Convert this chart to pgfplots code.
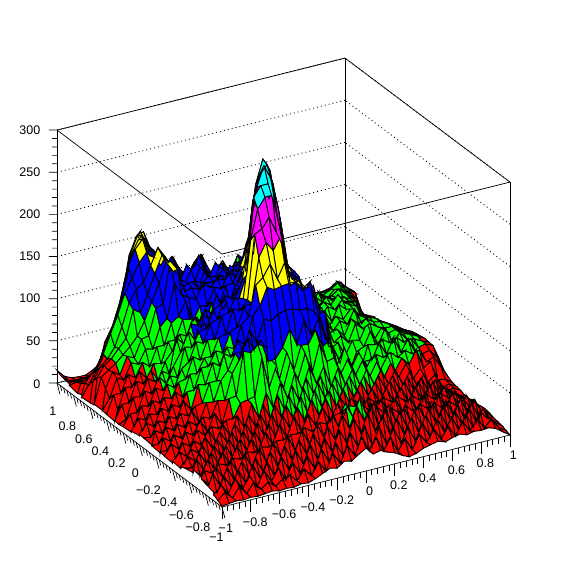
\documentclass[border=0pt]{standalone}
\usepackage{fontspec}
\setmainfont{Liberation Sans}
\usepackage{pgfplots}
\pgfplotsset{compat=1.18}
\begin{document}
\begin{tikzpicture}
\path[use as bounding box,fill=white] (0pt,0pt) rectangle (567pt,567pt);
\begin{axis}[
  at={(283.5pt,158pt)}, anchor=origin, disabledatascaling, clip=false,
  x={(144pt,36pt)}, y={(-82.5pt,62pt)}, z={(0pt,0.843pt)},
  xmin=-1,xmax=1,ymin=-1,ymax=1,zmin=0,zmax=300,
  xtick={-1,-0.8,...,1.01}, ytick={-1,-0.8,...,1.01}, ztick={0,50,...,300},
  xticklabels={−1,−0.8,−0.6,−0.4,−0.2,0,0.2,0.4,0.6,0.8,1},
  yticklabels={−1,−0.8,−0.6,−0.4,−0.2,0,0.2,0.4,0.6,0.8,1},
  tick align=outside, major tick length=9pt,
  tick style={draw=none}, axis line style={line width=0.7pt},
  zmajorgrids=true, xmajorgrids=false, ymajorgrids=false,
  major grid style={black,line width=0.8pt,dash pattern=on 1pt off 3pt},
  ticklabel style={font=\fontsize{12.5}{14}\selectfont},
  xticklabel style={xshift=-8pt,yshift=-6pt},
  yticklabel style={xshift=11pt,yshift=-18pt},
  zticklabel style={xshift=-6pt,yshift=-8pt},
  /pgf/number format/assume math mode=true,
  colormap={rootlev}{rgb255=(255,0,0) rgb255=(0,255,0) rgb255=(0,0,255) rgb255=(255,255,0) rgb255=(255,0,255) rgb255=(0,255,255)},
  colormap access=piecewise constant,
  point meta min=0, point meta max=300,
]
\addplot3[black,line width=0.7pt,no marks,forget plot] coordinates {(-1,1,300) (-1,-1,300) (1,-1,300)};
\pgfplotsinvokeforeach{-1,-0.8,-0.6,-0.4,-0.2,0,0.2,0.4,0.6,0.8,1}{
  \addplot3[black,line width=0.7pt,no marks,forget plot] coordinates {(#1,-1,0) (#1,-1,-14)};
  \addplot3[black,line width=0.7pt,no marks,forget plot] coordinates {(-1,#1,0) (-0.98,#1,-14)};
}
\pgfplotsinvokeforeach{-0.96,-0.92,-0.88,-0.84,-0.76,-0.72,-0.68,-0.64,-0.56,-0.52,-0.48,-0.44,-0.36,-0.32,-0.28,-0.24,-0.16,-0.12,-0.08,-0.04,0.04,0.08,0.12,0.16,0.24,0.28,0.32,0.36,0.44,0.48,0.52,0.56,0.64,0.68,0.72,0.76,0.84,0.88,0.92,0.96}{
  \addplot3[black,line width=0.7pt,no marks,forget plot] coordinates {(#1,-1,0) (#1,-1,-7)};
  \addplot3[black,line width=0.7pt,no marks,forget plot] coordinates {(-1,#1,0) (-0.99,#1,-7)};
}
\pgfplotsinvokeforeach{0,50,100,150,200,250,300}{
  \addplot3[black,line width=0.7pt,no marks,forget plot] coordinates {(-1,1,#1) (-1.0417,1.0242,#1)};
}
\pgfplotsinvokeforeach{10,20,30,40,60,70,80,90,110,120,130,140,160,170,180,190,210,220,230,240,260,270,280,290}{
  \addplot3[black,line width=0.7pt,no marks,forget plot] coordinates {(-1,1,#1) (-1.026,1.0151,#1)};
}
\addplot3[surf, shader=faceted, faceted color=black, line width=0.9pt, z buffer=sort, mesh/rows=41, mesh/cols=41]
 table[row sep=\\, header=false, x expr={mod(\coordindex,41)/20-1}, y expr={floor(\coordindex/41)/20-1}, z index=0] {
1\\2\\3\\2\\3\\2\\3\\4\\2\\3\\2\\4\\3\\6\\10\\14\\12\\18\\16\\22\\27\\18\\20\\16\\13\\8\\4\\6\\10\\12\\14\\11\\14\\16\\13\\15\\14\\15\\12\\6\\0\\
4\\12\\3\\14\\4\\15\\5\\11\\4\\10\\13\\4\\16\\6\\20\\7\\26\\12\\31\\17\\37\\19\\32\\14\\28\\9\\22\\7\\23\\11\\25\\11\\24\\10\\26\\12\\25\\11\\20\\7\\2\\
7\\17\\4\\20\\6\\19\\4\\21\\6\\20\\4\\22\\7\\25\\9\\29\\12\\32\\15\\40\\22\\44\\19\\39\\16\\33\\13\\30\\11\\31\\12\\32\\14\\30\\12\\29\\11\\27\\17\\10\\4\\
10\\4\\21\\7\\24\\7\\26\\8\\25\\7\\27\\10\\30\\12\\33\\14\\36\\18\\42\\25\\52\\32\\54\\30\\47\\23\\39\\18\\37\\16\\35\\15\\34\\14\\32\\13\\31\\11\\25\\8\\5\\
13\\23\\7\\26\\9\\30\\11\\28\\10\\32\\13\\34\\16\\37\\19\\40\\21\\44\\27\\54\\36\\61\\41\\58\\31\\50\\24\\42\\20\\39\\18\\37\\17\\36\\16\\33\\13\\30\\10\\15\\6\\
15\\6\\25\\10\\29\\12\\32\\14\\35\\16\\37\\18\\40\\21\\43\\24\\46\\29\\55\\37\\62\\44\\64\\40\\55\\32\\48\\25\\43\\22\\41\\20\\39\\18\\36\\15\\34\\13\\27\\10\\8\\
17\\19\\14\\23\\19\\25\\22\\28\\26\\30\\28\\33\\32\\36\\35\\40\\33\\42\\38\\46\\47\\53\\50\\50\\40\\43\\34\\38\\30\\36\\28\\34\\26\\31\\23\\29\\21\\26\\14\\16\\9\\
19\\9\\28\\12\\33\\15\\36\\18\\41\\21\\43\\25\\48\\28\\53\\32\\50\\35\\54\\36\\55\\39\\57\\37\\53\\33\\50\\29\\45\\25\\43\\23\\39\\21\\37\\18\\32\\13\\25\\10\\8\\
15\\26\\10\\30\\14\\35\\17\\39\\20\\44\\24\\47\\29\\52\\34\\58\\39\\63\\41\\59\\38\\56\\40\\48\\41\\46\\39\\43\\36\\40\\32\\37\\29\\34\\26\\31\\23\\27\\13\\15\\7\\
13\\11\\27\\12\\32\\16\\37\\19\\42\\23\\48\\28\\53\\32\\59\\40\\66\\43\\68\\45\\64\\41\\60\\39\\55\\36\\53\\33\\49\\30\\46\\26\\42\\23\\39\\20\\33\\16\\19\\9\\9\\
11\\21\\13\\30\\14\\34\\18\\39\\21\\44\\26\\51\\32\\57\\40\\64\\44\\69\\48\\72\\50\\66\\46\\63\\42\\59\\40\\55\\35\\52\\32\\48\\27\\42\\23\\37\\18\\25\\12\\11\\6\\
9\\8\\24\\17\\34\\18\\37\\21\\42\\25\\48\\31\\56\\37\\63\\43\\70\\50\\74\\54\\72\\49\\68\\48\\64\\44\\60\\41\\56\\38\\52\\32\\47\\27\\41\\21\\34\\12\\18\\8\\7\\
10\\19\\11\\28\\21\\37\\20\\39\\23\\45\\29\\55\\36\\64\\44\\72\\51\\79\\57\\82\\60\\78\\52\\72\\50\\66\\46\\62\\42\\58\\38\\54\\33\\47\\27\\40\\19\\27\\11\\14\\9\\
8\\8\\24\\18\\35\\27\\35\\30\\38\\38\\54\\56\\58\\102\\64\\88\\60\\91\\66\\94\\70\\102\\78\\80\\60\\76\\54\\69\\48\\64\\43\\59\\38\\52\\32\\42\\23\\30\\13\\15\\10\\
9\\21\\13\\31\\25\\41\\25\\45\\29\\58\\59\\110\\106\\114\\109\\90\\66\\96\\72\\100\\99\\114\\92\\98\\66\\84\\58\\74\\52\\68\\47\\62\\41\\55\\45\\61\\37\\42\\18\\17\\11\\
10\\10\\26\\20\\38\\31\\39\\35\\54\\52\\82\\96\\124\\104\\112\\86\\86\\98\\118\\97\\124\\104\\122\\94\\84\\62\\64\\46\\53\\46\\62\\56\\60\\52\\58\\52\\54\\38\\42\\28\\14\\
9\\21\\15\\33\\27\\45\\29\\50\\49\\72\\82\\100\\100\\124\\106\\132\\128\\134\\136\\136\\132\\132\\126\\112\\80\\70\\44\\50\\36\\52\\52\\70\\54\\72\\52\\66\\48\\44\\46\\36\\18\\
10\\11\\28\\22\\40\\35\\44\\46\\68\\68\\98\\92\\110\\102\\134\\144\\164\\159\\161\\162\\162\\152\\158\\122\\118\\66\\58\\37\\44\\38\\66\\64\\68\\62\\66\\58\\60\\48\\50\\46\\26\\
11\\22\\17\\35\\30\\49\\36\\64\\62\\86\\80\\100\\96\\122\\130\\165\\172\\186\\166\\183\\162\\157\\146\\147\\112\\94\\54\\54\\34\\56\\60\\78\\58\\76\\56\\66\\56\\54\\50\\46\\30\\
12\\11\\28\\24\\43\\38\\54\\54\\78\\78\\94\\90\\112\\116\\138\\140\\192\\208\\196\\210\\170\\152\\140\\124\\106\\104\\62\\68\\50\\66\\64\\82\\60\\72\\64\\66\\60\\56\\52\\47\\36\\
13\\24\\18\\37\\32\\52\\44\\69\\68\\84\\84\\104\\106\\134\\130\\140\\216\\220\\232\\212\\192\\144\\138\\122\\124\\98\\84\\64\\70\\60\\80\\72\\76\\70\\66\\66\\60\\55\\50\\46\\38\\
11\\11\\29\\26\\44\\41\\58\\60\\84\\78\\100\\98\\124\\126\\146\\138\\205\\240\\252\\252\\214\\162\\142\\124\\126\\102\\92\\72\\74\\64\\82\\74\\78\\72\\70\\66\\59\\54\\49\\45\\36\\
9\\22\\18\\39\\34\\54\\48\\68\\74\\96\\92\\114\\116\\142\\136\\135\\160\\250\\262\\262\\232\\190\\144\\138\\118\\118\\96\\88\\68\\78\\72\\88\\68\\74\\70\\64\\57\\53\\48\\44\\36\\
8\\9\\31\\29\\48\\43\\58\\54\\88\\86\\102\\104\\124\\128\\134\\130\\150\\205\\256\\280\\262\\225\\162\\142\\120\\122\\98\\94\\70\\80\\74\\84\\76\\70\\66\\60\\56\\51\\46\\41\\35\\
7\\20\\20\\43\\38\\56\\45\\64\\78\\102\\88\\118\\108\\136\\116\\118\\135\\155\\235\\266\\275\\239\\198\\142\\134\\112\\112\\86\\84\\70\\88\\80\\78\\68\\64\\58\\54\\50\\45\\39\\33\\
6\\10\\34\\33\\52\\46\\56\\51\\92\\82\\104\\100\\116\\110\\118\\112\\134\\150\\170\\250\\278\\262\\206\\150\\124\\128\\102\\100\\74\\84\\78\\88\\80\\76\\62\\56\\52\\48\\43\\36\\32\\
7\\24\\24\\47\\42\\56\\42\\62\\72\\90\\86\\108\\92\\98\\90\\110\\112\\130\\150\\212\\252\\268\\240\\196\\140\\130\\104\\102\\78\\86\\80\\90\\78\\76\\62\\55\\51\\45\\40\\35\\30\\
6\\14\\38\\37\\53\\43\\58\\56\\80\\80\\102\\100\\100\\82\\114\\106\\130\\130\\148\\170\\214\\245\\219\\170\\134\\124\\98\\92\\88\\78\\86\\78\\76\\74\\72\\54\\48\\43\\38\\33\\28\\
7\\28\\28\\48\\42\\58\\51\\72\\72\\96\\102\\118\\92\\108\\106\\126\\122\\140\\130\\152\\180\\205\\184\\150\\122\\118\\94\\96\\74\\84\\76\\80\\68\\76\\66\\58\\44\\40\\36\\30\\25\\
8\\20\\42\\38\\56\\52\\68\\66\\90\\98\\138\\122\\116\\112\\128\\122\\130\\126\\136\\132\\164\\149\\148\\124\\124\\100\\102\\80\\84\\74\\84\\70\\72\\68\\66\\62\\44\\38\\33\\29\\24\\
8\\28\\46\\40\\60\\56\\76\\78\\108\\112\\160\\148\\120\\122\\118\\124\\122\\128\\124\\130\\126\\128\\122\\120\\102\\106\\84\\88\\70\\84\\68\\72\\64\\68\\66\\62\\50\\36\\30\\25\\22\\
8\\38\\44\\50\\58\\66\\76\\92\\112\\132\\155\\142\\130\\124\\124\\120\\126\\122\\130\\112\\132\\110\\126\\104\\110\\90\\92\\72\\80\\70\\76\\64\\66\\66\\72\\64\\56\\34\\28\\24\\20\\
7\\34\\46\\52\\62\\72\\104\\98\\118\\140\\160\\148\\134\\116\\134\\110\\130\\112\\128\\108\\124\\106\\120\\100\\106\\86\\90\\70\\78\\66\\74\\62\\66\\60\\68\\66\\58\\50\\26\\22\\18\\
6\\26\\40\\48\\60\\82\\108\\122\\128\\146\\165\\152\\138\\118\\136\\112\\132\\114\\130\\106\\122\\102\\116\\96\\102\\82\\86\\68\\76\\62\\70\\58\\62\\60\\64\\70\\60\\52\\27\\23\\19\\
5\\18\\32\\50\\72\\92\\116\\132\\148\\158\\150\\138\\128\\132\\118\\122\\130\\118\\114\\112\\106\\104\\108\\94\\100\\80\\84\\66\\74\\60\\68\\56\\62\\58\\58\\62\\64\\54\\48\\20\\14\\
8\\16\\25\\32\\56\\76\\102\\142\\160\\170\\148\\140\\126\\140\\120\\110\\122\\132\\112\\110\\118\\104\\116\\98\\106\\86\\90\\70\\76\\58\\66\\52\\60\\54\\52\\54\\62\\50\\48\\25\\12\\
6\\12\\16\\24\\40\\60\\82\\110\\150\\165\\152\\146\\128\\124\\130\\114\\112\\122\\124\\106\\110\\108\\102\\110\\110\\90\\94\\74\\78\\60\\66\\50\\56\\48\\48\\46\\50\\54\\44\\40\\11\\
8\\10\\9\\15\\22\\50\\66\\92\\128\\150\\165\\146\\136\\118\\128\\118\\98\\112\\124\\102\\100\\106\\98\\102\\96\\104\\88\\88\\70\\72\\56\\58\\44\\46\\44\\40\\44\\50\\44\\38\\22\\
10\\7\\6\\8\\11\\22\\46\\68\\96\\140\\160\\150\\140\\120\\110\\124\\102\\100\\112\\118\\96\\94\\102\\90\\108\\100\\100\\84\\82\\64\\62\\46\\48\\40\\40\\38\\38\\42\\45\\36\\28\\
12\\4\\3\\3\\2\\10\\32\\50\\72\\104\\142\\160\\142\\132\\112\\116\\110\\90\\100\\112\\92\\90\\96\\88\\92\\86\\108\\100\\88\\76\\64\\54\\46\\38\\36\\34\\32\\34\\40\\38\\30\\
15\\6\\2\\1\\1\\5\\11\\36\\56\\82\\130\\150\\154\\132\\118\\100\\116\\100\\88\\102\\110\\88\\86\\96\\80\\96\\88\\104\\92\\82\\70\\58\\48\\42\\36\\34\\30\\30\\32\\34\\27\\
};
\end{axis}
\end{tikzpicture}
\end{document}
